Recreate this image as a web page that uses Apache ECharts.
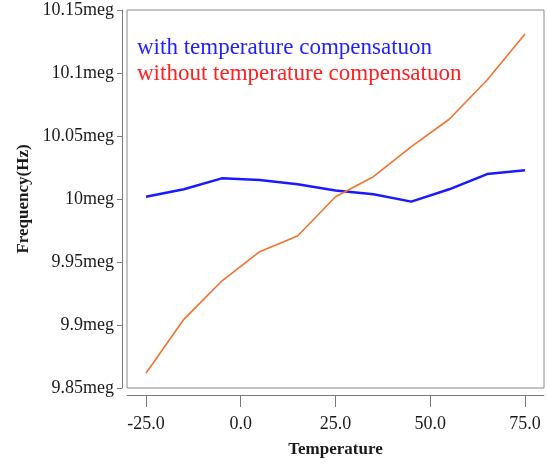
<!DOCTYPE html>
<html>
<head>
<meta charset="utf-8">
<script src="https://cdn.jsdelivr.net/npm/echarts@6/dist/echarts.min.js"></script>
<style>
  html, body { margin: 0; padding: 0; background: #fff; }
  #main { width: 547px; height: 464px; }
</style>
</head>
<body>
<div id="main"></div>
<script>
const chartDom = document.getElementById('main')
const myChart = echarts.init(chartDom)

// temperature points (deg C)
const temps = [-25, -15, -5, 5, 15, 25, 35, 45, 55, 65, 75]
// frequency in MHz
const withComp = [10.0018, 10.0077, 10.0164, 10.0151, 10.0117, 10.0067, 10.0037, 9.9979, 10.0077, 10.0198, 10.0228]
const withoutComp = [9.8617, 9.9045, 9.9349, 9.9582, 9.9706, 10.0018, 10.0177, 10.0415, 10.0633, 10.0944, 10.131]
const xTicks = [-25, 0, 25, 50, 75]
const yTicks = [9.85, 9.9, 9.95, 10, 10.05, 10.1, 10.15]

const font = '"Liberation Serif", "DejaVu Serif", serif'

const option = {
    backgroundColor: '#fff',
    animation: false,
    grid: {
        left: 127,
        top: 10,
        right: 3,
        bottom: 76,
        show: true,
        borderColor: '#8a8a8a',
        borderWidth: 1,
        backgroundColor: '#fff'
    },
    legend: {
        orient: 'vertical',
        left: 127,
        top: 31,
        icon: 'none',
        itemWidth: 0,
        itemGap: 3,
        textStyle: { fontFamily: font, fontSize: 23 },
        data: [
            { name: 'with temperature compensatuon', textStyle: { color: '#1f1fff' } },
            { name: 'without temperature compensatuon', textStyle: { color: '#ff2020' } }
        ]
    },
    xAxis: {
        type: 'value',
        min: -30,
        max: 80,
        offset: 7,
        name: 'Temperature',
        nameLocation: 'middle',
        nameGap: 46,
        nameTextStyle: { fontFamily: font, fontSize: 17, fontWeight: 'bold', color: '#1a1a1a' },
        splitLine: { show: false },
        axisLine: { show: true, onZero: false, lineStyle: { color: '#7a7a7a' } },
        axisTick: { show: true, length: 12, customValues: xTicks, lineStyle: { color: '#7a7a7a' } },
        axisLabel: {
            customValues: xTicks,
            margin: 20,
            fontFamily: font,
            fontSize: 18,
            color: '#1a1a1a',
            formatter: v => v.toFixed(1)
        }
    },
    yAxis: {
        type: 'value',
        min: 9.85,
        max: 10.15,
        offset: 5,
        name: 'Frequency(Hz)',
        nameLocation: 'middle',
        nameGap: 88,
        nameTextStyle: { fontFamily: font, fontSize: 17, fontWeight: 'bold', color: '#1a1a1a' },
        splitLine: { show: false },
        axisLine: { show: true, onZero: false, lineStyle: { color: '#7a7a7a' } },
        axisTick: { show: true, length: 5, customValues: yTicks, lineStyle: { color: '#7a7a7a' } },
        axisLabel: {
            customValues: yTicks,
            margin: 8,
            fontFamily: font,
            fontSize: 18,
            color: '#1a1a1a',
            formatter: v => parseFloat(v.toFixed(2)) + 'meg'
        }
    },
    series: [
        {
            name: 'with temperature compensatuon',
            type: 'line',
            data: temps.map((t, i) => [t, withComp[i]]),
            showSymbol: false,
            lineStyle: { color: '#1a1aff', width: 2.5 },
            itemStyle: { color: '#1a1aff' }
        },
        {
            name: 'without temperature compensatuon',
            type: 'line',
            data: temps.map((t, i) => [t, withoutComp[i]]),
            showSymbol: false,
            lineStyle: { color: '#f2722e', width: 1.6 },
            itemStyle: { color: '#f2722e' }
        }
    ]
}

myChart.setOption(option)
</script>
</body>
</html>
